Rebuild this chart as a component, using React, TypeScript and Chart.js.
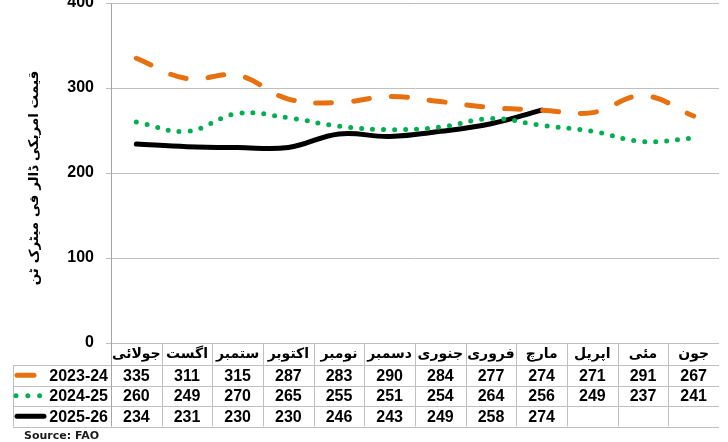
import React, { useEffect, useRef } from 'react';
import { Chart, registerables } from 'chart.js';

Chart.register(...registerables);

const months = ['جولائی', 'اگست', 'ستمبر', 'اکتوبر', 'نومبر', 'دسمبر', 'جنوری', 'فروری', 'مارچ', 'اپریل', 'مئی', 'جون'];
const seriesLabels = ['2023-24', '2024-25', '2025-26'];
const s2324: (number | null)[] = [335, 311, 315, 287, 283, 290, 284, 277, 274, 271, 291, 267];
const s2425: (number | null)[] = [260, 249, 270, 265, 255, 251, 254, 264, 256, 249, 237, 241];
const s2526: (number | null)[] = [234, 231, 230, 230, 246, 243, 249, 258, 274, null, null, null];
const yTicks = [0, 100, 200, 300, 400];
const yTitle = 'قیمت امریکی ڈالر فی میٹرک ٹن';
const sourceText = 'Source: FAO';

const ORANGE = '#E8710F';
const GREEN = '#00B050';
const BLACK = '#000000';
const GRID = '#bfbfbf';
const NUM_FONT = "'Liberation Sans', Arial, sans-serif";
const AR_FONT = "'DejaVu Sans', sans-serif";

const tablePlugin = {
  id: 'dataTable',
  afterDraw(chart: any) {
    const { ctx, chartArea, scales } = chart;
    const x = scales.x;
    const n = months.length;
    const colW = x.getPixelForValue(1) - x.getPixelForValue(0);
    const top = chartArea.bottom;
    const headerBottom = top + 22;
    const rowH = 20.5;
    const rowsBottom = headerBottom + rowH * 3;
    const legendLeft = 13;
    const px = (v: number) => Math.round(v) + 0.5;

    ctx.save();
    // y-axis title
    ctx.save();
    ctx.translate(34, (chartArea.top + chartArea.bottom) / 2 + 5);
    ctx.rotate(-Math.PI / 2);
    ctx.fillStyle = '#000';
    ctx.textAlign = 'center';
    ctx.textBaseline = 'middle';
    ctx.font = `bold 13.5px ${AR_FONT}`;
    ctx.fillText(yTitle, 0, 0);
    ctx.restore();

    ctx.strokeStyle = GRID;
    ctx.lineWidth = 1;
    for (let r = 0; r <= 3; r++) {
      const y = px(headerBottom + r * rowH);
      ctx.beginPath();
      ctx.moveTo(legendLeft, y);
      ctx.lineTo(chartArea.right, y);
      ctx.stroke();
    }
    for (let i = 0; i < n - 1; i++) {
      const bx = px(x.getPixelForValue(i) + colW / 2);
      ctx.beginPath();
      ctx.moveTo(bx, top);
      ctx.lineTo(bx, rowsBottom);
      ctx.stroke();
    }
    ctx.beginPath();
    ctx.moveTo(px(legendLeft), headerBottom);
    ctx.lineTo(px(legendLeft), rowsBottom);
    ctx.stroke();
    ctx.strokeStyle = '#a6a6a6';
    ctx.beginPath();
    ctx.moveTo(px(chartArea.left), top);
    ctx.lineTo(px(chartArea.left), rowsBottom);
    ctx.stroke();

    ctx.fillStyle = '#000';
    ctx.textAlign = 'center';
    ctx.textBaseline = 'middle';
    ctx.font = `bold 14px ${AR_FONT}`;
    for (let i = 0; i < n; i++) {
      ctx.fillText(months[i], x.getPixelForValue(i), top + 11);
    }
    const all = [s2324, s2425, s2526];
    ctx.font = `bold 16px ${NUM_FONT}`;
    all.forEach((arr, r) => {
      const cy = headerBottom + rowH * r + rowH / 2 + 1;
      arr.forEach((v, i) => {
        if (v == null) return;
        ctx.fillText(String(v), x.getPixelForValue(i), cy);
      });
    });
    ctx.textAlign = 'right';
    seriesLabels.forEach((lab, r) => {
      const cy = headerBottom + rowH * r + rowH / 2 + 1;
      ctx.fillText(lab, chartArea.left - 3, cy);
    });
    ctx.lineCap = 'round';
    ctx.lineWidth = 5;
    let cy = headerBottom + rowH / 2;
    ctx.strokeStyle = ORANGE;
    ctx.beginPath();
    ctx.moveTo(17, cy);
    ctx.lineTo(34, cy);
    ctx.stroke();
    cy = headerBottom + rowH * 1.5;
    ctx.strokeStyle = GREEN;
    ctx.setLineDash([0, 11.8]);
    ctx.beginPath();
    ctx.moveTo(16, cy);
    ctx.lineTo(42, cy);
    ctx.stroke();
    ctx.setLineDash([]);
    cy = headerBottom + rowH * 2.5;
    ctx.strokeStyle = BLACK;
    ctx.beginPath();
    ctx.moveTo(17, cy);
    ctx.lineTo(44, cy);
    ctx.stroke();

    ctx.fillStyle = '#1a1a1a';
    ctx.textAlign = 'left';
    ctx.font = `bold 11px ${AR_FONT}`;
    ctx.fillText(sourceText, 24, 436);
    ctx.restore();
  },
};

export default function App() {
  const ref = useRef<HTMLCanvasElement | null>(null);
  useEffect(() => {
    document.body.style.margin = '0';
    const canvas = ref.current;
    if (!canvas) return;
    Chart.defaults.font.family = NUM_FONT;
    const chart = new Chart(canvas, {
      type: 'line',
      data: {
        labels: months,
        datasets: [
          {
            label: seriesLabels[0],
            data: s2324,
            borderColor: ORANGE,
            borderWidth: 5,
            borderDash: [16, 22],
            borderCapStyle: 'round',
            pointRadius: 0,
            tension: 0.4,
            fill: false,
          },
          {
            label: seriesLabels[1],
            data: s2425,
            borderColor: GREEN,
            borderWidth: 5,
            borderDash: [0, 11],
            borderCapStyle: 'round',
            pointRadius: 0,
            tension: 0.4,
            fill: false,
          },
          {
            label: seriesLabels[2],
            data: s2526,
            borderColor: BLACK,
            borderWidth: 5,
            borderCapStyle: 'round',
            pointRadius: 0,
            tension: 0.4,
            fill: false,
            spanGaps: false,
          },
        ],
      },
      options: {
        responsive: false,
        animation: false,
        devicePixelRatio: 1,
        layout: { padding: { top: 3, right: 9, bottom: 99, left: 0 } },
        plugins: { legend: { display: false }, tooltip: { enabled: false } },
        scales: {
          x: { display: false, offset: true },
          y: {
            min: 0,
            max: 400,
            afterBuildTicks: (s: any) => {
              s.ticks = yTicks.map((v) => ({ value: v }));
            },
            afterFit: (s: any) => {
              s.width = 111;
              s.paddingTop = 0;
              s.paddingBottom = 0;
            },
            ticks: { padding: 12, color: '#000', font: { size: 16, weight: 'bold', family: NUM_FONT } },
            grid: { color: GRID, tickLength: 5, lineWidth: 1 },
            border: { color: '#a6a6a6' },
            title: { display: false },
          },
        },
      },
      plugins: [tablePlugin],
    } as any);
    return () => chart.destroy();
  }, []);
  return (
    <div style={{ width: 728, height: 442 }}>
      <canvas ref={ref} width={728} height={442} style={{ display: 'block' }} />
    </div>
  );
}
